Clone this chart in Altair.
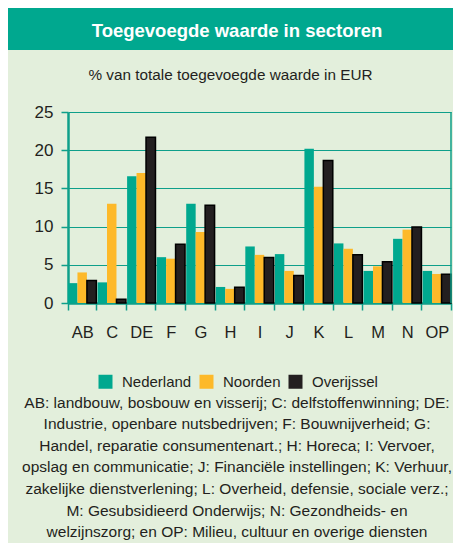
import altair as alt
import pandas as pd

categories = ["AB", "C", "DE", "F", "G", "H", "I", "J", "K", "L", "M", "N", "OP"]
series = ["Nederland", "Noorden", "Overijssel"]
nederland = [2.6, 2.7, 16.6, 6.0, 13.0, 2.1, 7.4, 6.4, 20.2, 7.8, 4.2, 8.4, 4.2]
noorden = [4.0, 13.0, 17.0, 5.8, 9.3, 1.85, 6.3, 4.2, 15.2, 7.1, 4.8, 9.6, 3.8]
overijssel = [2.95, 0.5, 21.7, 7.7, 12.8, 2.05, 5.95, 3.6, 18.65, 6.3, 5.4, 9.95, 3.75]
colors = ["#00A88F", "#FDB929", "#231F20"]
y_ticks = [0, 5, 10, 15, 20, 25]

title_text = "Toegevoegde waarde in sectoren"
subtitle_text = "% van totale toegevoegde waarde in EUR"
footnote_lines = [
    "AB: landbouw, bosbouw en visserij; C: delfstoffenwinning; DE:",
    "Industrie, openbare nutsbedrijven; F: Bouwnijverheid; G:",
    "Handel, reparatie consumentenart.; H: Horeca; I: Vervoer,",
    "opslag en communicatie; J: Financiële instellingen; K: Verhuur,",
    "zakelijke dienstverlening; L: Overheid, defensie, sociale verz.;",
    "M: Gesubsidieerd Onderwijs; N: Gezondheids- en",
    "welzijnszorg; en OP: Milieu, cultuur en overige diensten",
]

rows = []
for i, c in enumerate(categories):
    for s, vals in zip(series, [nederland, noorden, overijssel]):
        rows.append({"sector": c, "regio": s, "waarde": vals[i]})
df = pd.DataFrame(rows)

FONT = "Liberation Sans"
TEAL = "#00A88F"
AXIS = "#0E9F8A"
TXT = "#231F20"

bars = alt.Chart(df).mark_bar(stroke="#000000").encode(
    x=alt.X(
        "sector:N", sort=categories,
        scale=alt.Scale(paddingInner=0.04, paddingOuter=0),
        axis=alt.Axis(title=None, labelAngle=0, tickBand="extent", tickSize=7,
                      tickColor=AXIS, tickWidth=1.5, domainColor=AXIS, domainWidth=2.5,
                      labelFont=FONT, labelFontSize=16.5, labelColor=TXT, labelPadding=14,
                      grid=False),
    ),
    xOffset=alt.XOffset("regio:N", sort=series,
                        scale=alt.Scale(paddingInner=0, paddingOuter=0)),
    y=alt.Y(
        "waarde:Q", scale=alt.Scale(domain=[0, 25], nice=False),
        axis=alt.Axis(title=None, values=y_ticks, tickSize=7, tickColor=AXIS, tickWidth=1.5,
                      domainColor=AXIS, domainWidth=2.5, gridColor=AXIS, gridWidth=1,
                      labelFont=FONT, labelFontSize=17, labelColor=TXT, labelPadding=8),
    ),
    color=alt.Color(
        "regio:N", sort=series, scale=alt.Scale(domain=series, range=colors),
        legend=alt.Legend(title=None, orient="none", legendX=30, legendY=262, padding=0,
                          direction="horizontal", symbolType="square", symbolSize=196,
                          symbolStrokeWidth=0, labelFont=FONT, labelFontSize=15,
                          labelColor=TXT, labelOffset=9, columnPadding=7),
    ),
    strokeWidth=alt.condition(alt.datum.regio == "Overijssel", alt.value(1.5), alt.value(0)),
)

border = alt.Chart(pd.DataFrame({"b": [1]})).mark_rule(color=AXIS, strokeWidth=1.5).encode(
    x=alt.value(383), y=alt.value(0), y2=alt.value(191)
)

header = alt.Chart(pd.DataFrame({"t": [title_text]})).mark_rect(color=TEAL).encode(
    x=alt.value(-60), x2=alt.value(385), y=alt.value(-104), y2=alt.value(-62)
)
title = alt.Chart(pd.DataFrame({"t": [title_text]})).mark_text(
    font=FONT, fontSize=18.5, fontWeight="bold", color="white", align="center",
    baseline="alphabetic"
).encode(x=alt.value(169), y=alt.value(-75), text="t:N")

subtitle = alt.Chart(pd.DataFrame({"t": [subtitle_text]})).mark_text(
    font=FONT, fontSize=15.3, color=TXT, align="center", baseline="alphabetic"
).encode(x=alt.value(162.5), y=alt.value(-32), text="t:N")

footnote = alt.Chart(pd.DataFrame({"t": ["\n".join(footnote_lines)]})).mark_text(
    font=FONT, fontSize=15.5, color=TXT, align="center", baseline="alphabetic",
    lineBreak="\n", lineHeight=21.6
).encode(x=alt.value(169), y=alt.value(295.5), text="t:N")

chart = alt.layer(header, title, subtitle, bars, border, footnote).properties(
    width=383, height=191,
    autosize=alt.AutoSizeParams(type="none"),
    padding={"left": 60, "top": 104, "right": 2, "bottom": 240},
    background="#E3EFDC",
).configure_view(strokeWidth=0)

chart.save("out.html", embed_options={"renderer": "svg", "actions": False})
